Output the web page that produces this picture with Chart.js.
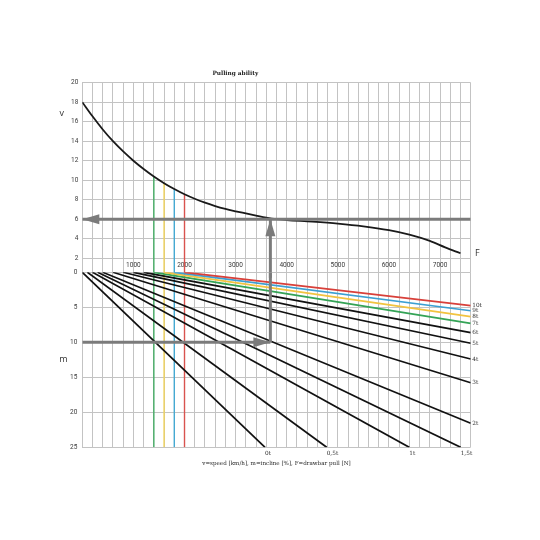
<!DOCTYPE html>
<html><head><meta charset="utf-8">
<script src="https://cdn.jsdelivr.net/npm/chart.js@4.4.1/dist/chart.umd.min.js"></script>
<style>
html,body{margin:0;padding:0;background:#fff;}
#wrap{position:relative;width:540px;height:540px;}
#wrap canvas{position:absolute;left:0;top:0;}
</style></head><body>
<div id="wrap"><canvas id="topChart" width="540" height="540"></canvas><canvas id="botChart" width="540" height="540"></canvas></div>
<script>
// ---------- data ----------
const pullF  = [0, 200, 400, 600, 800, 1000, 1200, 1400, 1600, 1800, 2000, 2200, 2400, 2600, 2800, 3000, 3200, 3400, 3600, 3800, 4000, 4500, 5000, 5500, 6000, 6400, 6800, 7100, 7400];
const speedV = [18, 16.55, 15.2, 14.0, 12.95, 12.0, 11.15, 10.38, 9.7, 9.1, 8.56, 8.1, 7.7, 7.35, 7.06, 6.82, 6.6, 6.38, 6.17, 6.01, 5.92, 5.76, 5.56, 5.28, 4.88, 4.42, 3.78, 3.12, 2.52];

const massLabels  = ['10t', '9t', '8t', '7t', '6t', '5t', '4t', '3t', '2t', '1,5t', '1t', '0,5t', '0t'];
const startPull   = [2000, 1800, 1600, 1400, 1200, 1000, 800, 600, 400, 300, 200, 100, 0];
const endPull     = [7600, 7600, 7600, 7600, 7600, 7600, 7600, 7600, 7600, 7404, 6398, 4782, 3576];
const endIncline  = [4.77, 5.49, 6.34, 7.29, 8.63, 10.14, 12.39, 15.77, 21.57, 25, 25, 25, 25];

const markerPull  = [1400, 1600, 1800, 2000];   // 7t, 8t, 9t, 10t starting pull
const exampleSpeed = 6;
const examplePull = 3680;
const exampleIncline = 10;

const pullTickLabels = [1000, 2000, 3000, 4000, 5000, 6000, 7000];

// ---------- styles ----------
const GRID = '#c3c3c3';
const ARROW = '#7b7b7b';
const massColors = ['#d8403a', '#3c9fd2', '#f2c340', '#34a356', '#111', '#111', '#111', '#111', '#111', '#111', '#111', '#111', '#111'];
const markerColors = ['#45ad65', '#f1d35a', '#45a9d2', '#d9534f'];
const tickFont = {family: 'Roboto', size: 6.5};
const serifFont = {family: 'DejaVu Serif', size: 5.8};

const arrowPlugin = {
  id: 'arrowHeads',
  afterDatasetsDraw(chart) {
    const ctx = chart.ctx;
    chart.data.datasets.forEach((ds, i) => {
      if (!ds.arrowAt) return;
      const pts = chart.getDatasetMeta(i).data;
      if (pts.length < 2) return;
      const tip = ds.arrowAt === 'start' ? pts[0] : pts[pts.length - 1];
      const from = ds.arrowAt === 'start' ? pts[1] : pts[pts.length - 2];
      const dx = tip.x - from.x, dy = tip.y - from.y, len = Math.hypot(dx, dy);
      const ux = dx / len, uy = dy / len;
      const L = 17, W = 5;
      const bx = tip.x - ux * L, by = tip.y - uy * L;
      ctx.save();
      ctx.fillStyle = ds.borderColor;
      ctx.beginPath();
      ctx.moveTo(tip.x, tip.y);
      ctx.lineTo(bx - uy * W, by + ux * W);
      ctx.lineTo(bx + uy * W, by - ux * W);
      ctx.closePath();
      ctx.fill();
      ctx.restore();
    });
  }
};

function axisLetters(items) {
  return {
    id: 'axisLetters',
    afterDraw(chart) {
      const ctx = chart.ctx;
      ctx.save();
      ctx.fillStyle = '#333';
      ctx.font = '9px "Open Sans"';
      ctx.textAlign = 'center';
      ctx.textBaseline = 'middle';
      items.forEach(it => {
        const y = chart.scales[it.axis].getPixelForValue(it.value);
        const x = it.side === 'left' ? chart.chartArea.left + it.dx : chart.chartArea.right + it.dx;
        ctx.fillText(it.text, x, y);
      });
      ctx.restore();
    }
  };
}

const line = (data, color, width, extra) => Object.assign({
  data, borderColor: color, backgroundColor: color, borderWidth: width,
  pointRadius: 0, fill: false, tension: 0
}, extra || {});

// ---------- top chart: speed vs pull ----------
const curveData = pullF.map((f, i) => ({x: f, y: speedV[i]}));
const topSets = [
  line([{x: 0, y: exampleSpeed}, {x: 7600, y: exampleSpeed}], ARROW, 3, {arrowAt: 'start'}),
  line([{x: examplePull, y: 0}, {x: examplePull, y: exampleSpeed}], ARROW, 3, {arrowAt: 'end', clip: false}),
  line(curveData, '#1a1a1a', 1.8, {cubicInterpolationMode: 'monotone'}),
];
markerPull.forEach((f, k) => {
  const v = speedV[pullF.indexOf(f)];
  topSets.push(line([{x: f, y: v}, {x: f, y: 0}], markerColors[k], 1.4, {clip: false}));
});

new Chart(document.getElementById('topChart'), {
  type: 'line',
  data: {datasets: topSets},
  options: {
    responsive: false, animation: false, devicePixelRatio: 1,
    layout: {padding: {left: 0, right: 69.3, top: 0, bottom: 268}},
    plugins: {
      legend: {display: false}, tooltip: {enabled: false},
      title: {display: true, text: 'Pulling ability', color: '#222',
        font: {family: 'DejaVu Serif', size: 5.8, weight: 'bold'}, padding: {top: 69.8, bottom: 5.9}}
    },
    scales: {
      x: {type: 'linear', min: 0, max: 7600, position: 'bottom',
        ticks: {stepSize: 200, autoSkip: false, maxRotation: 0, padding: -11.3, font: tickFont, color: '#3a3a3a',
          callback: v => pullTickLabels.includes(v) ? String(v) : ''},
        grid: {color: GRID, lineWidth: 1, drawTicks: true, tickLength: 14},
        border: {display: false},
        afterFit: s => { s.height = 13.7; }},
      y: {type: 'linear', min: 2, max: 20,
        ticks: {stepSize: 2, padding: 4, font: tickFont, color: '#3a3a3a'},
        grid: {color: GRID, lineWidth: 1, drawTicks: false},
        border: {display: false},
        afterFit: s => { s.width = 82.3; }}
    }
  },
  plugins: [arrowPlugin, axisLetters([
    {axis: 'y', value: 16.85, side: 'left', dx: -20.5, text: 'v'},
    {axis: 'y', value: 2.5, side: 'right', dx: 6.5, text: 'F'}
  ])]
});

// ---------- bottom chart: incline vs pull ----------
const botSets = [
  line([{x: 0, y: exampleIncline}, {x: examplePull, y: exampleIncline}], ARROW, 3, {arrowAt: 'end'}),
  line([{x: examplePull, y: exampleIncline}, {x: examplePull, y: 0}], ARROW, 3, {clip: false}),
];
massLabels.forEach((m, i) => {
  botSets.push(line([{x: startPull[i], y: 0}, {x: endPull[i], y: endIncline[i]}], massColors[i], 1.7));
});
markerPull.forEach((f, k) => {
  botSets.push(line([{x: f, y: 0}, {x: f, y: 25}], markerColors[k], 1.4));
});

const rightTicks = massLabels.map((m, i) => ({m, v: endIncline[i], f: endPull[i]})).filter(t => t.v < 25);
const bottomTicks = massLabels.map((m, i) => ({m, v: endIncline[i], f: endPull[i]})).filter(t => t.v >= 25);

new Chart(document.getElementById('botChart'), {
  type: 'line',
  data: {datasets: botSets},
  options: {
    responsive: false, animation: false, devicePixelRatio: 1,
    layout: {padding: {left: 0, right: 0, top: 272.3, bottom: 72.7}},
    plugins: {legend: {display: false}, tooltip: {enabled: false}},
    scales: {
      x: {type: 'linear', min: 0, max: 7600, position: 'bottom',
        ticks: {display: false, stepSize: 200, autoSkip: false},
        grid: {color: GRID, lineWidth: 1, drawTicks: false},
        border: {display: false},
        afterFit: s => { s.height = 0; }},
      xl: {type: 'linear', min: 0, max: 7600, position: 'bottom',
        afterBuildTicks: s => { s.ticks = bottomTicks.map(t => ({value: t.f})).sort((a, b) => a.value - b.value); },
        ticks: {autoSkip: false, maxRotation: 0, align: 'start', padding: 3.2, font: serifFont, color: '#333',
          callback: v => { const t = bottomTicks.find(b => b.f === v); return t ? t.m : ''; }},
        grid: {display: false, drawTicks: false}, border: {display: false},
        title: {display: true, text: 'v=speed [km/h], m=incline [%], F=drawbar pull [N]', color: '#222',
          font: {family: 'DejaVu Serif', size: 5.6}, padding: {top: 0, bottom: 0.6}},
        afterFit: s => { s.height = 20; }},
      y: {type: 'linear', min: 0, max: 25, reverse: true,
        ticks: {stepSize: 5, padding: 5, font: tickFont, color: '#3a3a3a'},
        grid: {color: GRID, lineWidth: 1, drawTicks: false},
        border: {display: false},
        afterFit: s => { s.width = 82.3; }},
      yr: {type: 'linear', min: 0, max: 25, reverse: true, position: 'right',
        afterBuildTicks: s => { s.ticks = rightTicks.map(t => ({value: t.v})).sort((a, b) => a.value - b.value); },
        ticks: {autoSkip: false, padding: 1.5, font: serifFont, color: '#333',
          callback: v => { const t = rightTicks.find(r => r.v === v); return t ? t.m : ''; }},
        grid: {display: false, drawTicks: false}, border: {display: false},
        afterFit: s => { s.width = 69.3; }}
    }
  },
  plugins: [arrowPlugin, axisLetters([
    {axis: 'y', value: 12.5, side: 'left', dx: -19, text: 'm'}
  ])]
});
</script>
</body></html>
